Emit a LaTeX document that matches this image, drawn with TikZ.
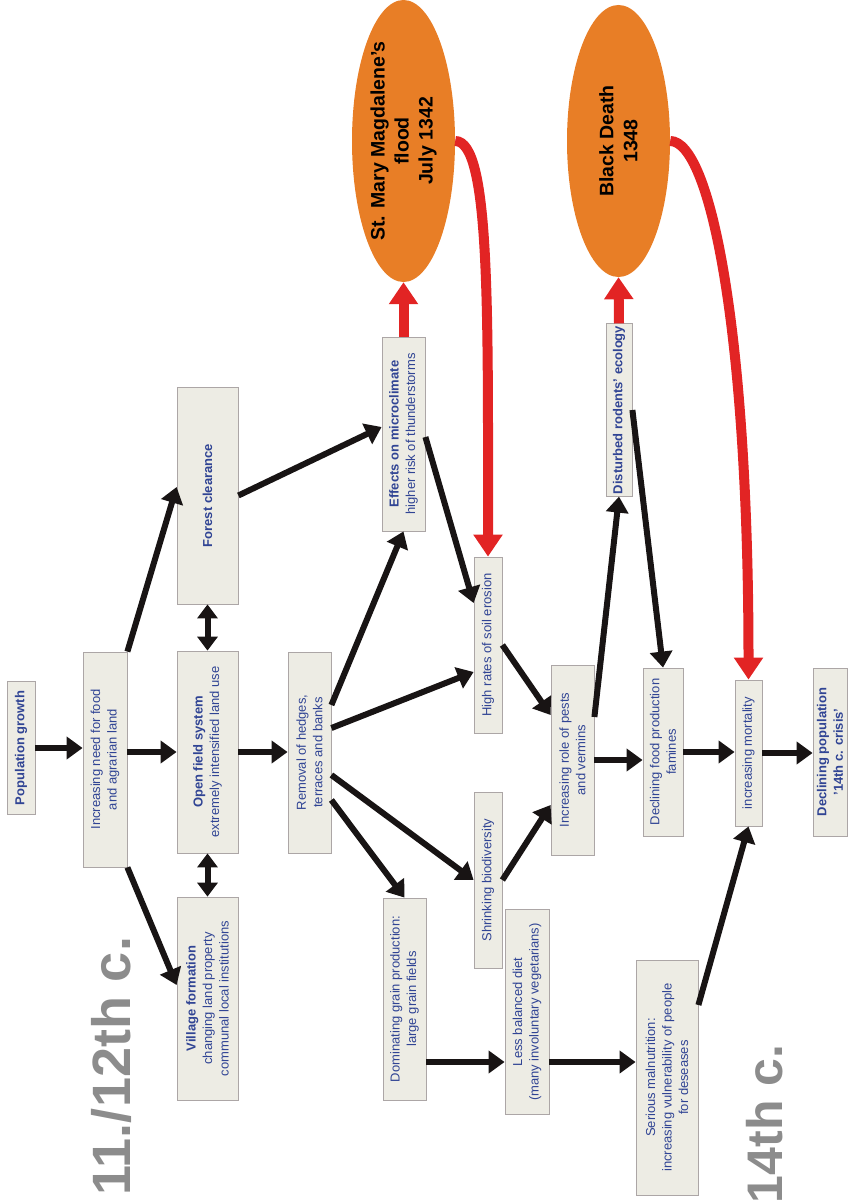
\documentclass[tikz,border=0pt]{standalone}
\usepackage{fontspec}
\setmainfont{Liberation Sans}
\usetikzlibrary{arrows.meta,shapes.geometric}
\definecolor{boxfill}{RGB}{237,236,228}
\definecolor{boxline}{RGB}{172,166,166}
\definecolor{boxtext}{RGB}{48,68,148}
\definecolor{evorange}{RGB}{232,126,38}
\definecolor{hitred}{RGB}{226,36,36}
\definecolor{arrowblack}{RGB}{24,20,20}
\definecolor{eragray}{RGB}{140,140,140}
\begin{document}
\begin{tikzpicture}[x=1pt, y=-1pt,
  box/.style={draw=boxline, fill=boxfill, line width=0.8pt, rotate=90, align=center, inner sep=2pt, text=boxtext, font=\fontsize{13}{16.5}\selectfont},
  event/.style={ellipse, fill=evorange, rotate=90, align=center, inner sep=0pt, minimum width=272pt, minimum height=103pt, font=\fontsize{19.5}{24}\selectfont\bfseries},
  era/.style={rotate=90, text=eragray, font=\fontsize{54}{56}\selectfont\bfseries},
  arr/.style={draw=arrowblack, line width=6pt, -{Triangle[length=16pt,width=22pt]}},
  twoway/.style={draw=arrowblack, line width=6pt, {Triangle[length=14pt,width=20pt]}-{Triangle[length=14pt,width=20pt]}},
  hit/.style={draw=hitred, line width=10pt, -{Triangle[length=22pt,width=28pt]}}]
\useasboundingbox (0,0) rectangle (847,1201);

% 11th/12th century
\node[box, minimum width=133pt, minimum height=28pt] at (21,748) (pop) {\bfseries Population growth};
\node[box, minimum width=215pt, minimum height=44pt] at (105,759.5) (need) {Increasing need for food\\and agrarian land};
\node[box, minimum width=217pt, minimum height=61pt] at (207.5,495.5) (forest) {\bfseries Forest clearance};
\node[box, minimum width=202pt, minimum height=61pt] at (207.5,752) (open) {{\bfseries Open field system}\\extremely intensified land use};
\node[box, minimum width=203pt, minimum height=61pt] at (207.5,998.5) (village) {{\bfseries Village formation}\\changing land property\\communal local institutions};
\node[box, minimum width=201pt, minimum height=43pt] at (309.5,752.5) (removal) {Removal of hedges,\\terraces and banks};
\node[box, minimum width=194pt, minimum height=43pt] at (403.5,434) (effects) {{\bfseries Effects on microclimate}\\higher risk of thunderstorms};
\node[box, minimum width=176pt, minimum height=28pt] at (488,645) (soil) {High rates of soil erosion};
\node[box, minimum width=176pt, minimum height=28pt] at (488,880) (shrink) {Shrinking biodiversity};
\node[box, minimum width=202pt, minimum height=43pt] at (404.5,999) (grain) {Dominating grain production:\\large grain fields};
\node[box, minimum width=205pt, minimum height=44pt] at (527,1012) (diet) {Less balanced diet\\(many involuntary vegetarians)};

% 14th century
\node[box, minimum width=190pt, minimum height=43pt] at (572.5,760) (pests) {Increasing role of pests\\and vermins};
\node[box, minimum width=165pt, minimum height=26pt] at (619,410) (rodents) {\bfseries Disturbed rodents' ecology};
\node[box, minimum width=168pt, minimum height=40pt] at (663,752) (famine) {Declining food production\\famines};
\node[box, minimum width=146pt, minimum height=27pt] at (748.5,753) (mortality) {increasing mortality};
\node[box, minimum width=168pt, minimum height=34pt] at (830,752) (decline) {\bfseries Declining population\\\bfseries '14th c. crisis'};
\node[box, minimum width=235pt, minimum height=62pt] at (667,1077.5) (malnutrition) {Serious malnutrition:\\increasing vulnerability of people\\for deseases};

% events
\node[event] at (403.5,141) (flood) {St. Mary Magdalene's\\flood\\July 1342};
\node[event] at (618.5,141) (plague) {Black Death\\1348};

% periods
\node[era] at (111,1066) (early) {11./12th c.};
\node[era] at (765,1124) (late) {\fontsize{50}{52}\selectfont 14th c.};

\draw[arr] (pop.south) -- (need.north |- pop.south);
\draw[arr] (need.south east) -- (forest.north |- 0,487);
\draw[arr] (need.south |- open.north) -- (open.north);
\draw[arr] (need.south west) -- (village.north |- 0,985);
\draw[twoway] (forest.west) -- (open.east);
\draw[twoway] (open.west) -- (village.east);
\draw[arr] (open.south) -- (removal.north |- open.south);
\draw[arr] (forest.south) -- (effects.north |- 0,427);
\draw[arr] (removal.south |- 0,705) -- (effects.west);
\draw[arr] (removal.south |- 0,728) -- (soil.north |- 0,672);
\draw[arr] (removal.south |- 0,775) -- (shrink.north);
\draw[arr] (removal.south |- 0,800) -- (grain.east);
\draw[arr] (effects.south |- 0,437) -- (soil.north |- 0,603);
\draw[arr] (soil.south) -- (pests.north |- 0,715);
\draw[arr] (shrink.south) -- (pests.north |- 0,805);
\draw[arr] (pests.south |- 0,717) -- (rodents.west);
\draw[arr] (rodents.south) -- (famine.east);
\draw[arr] (pests.south) -- (famine.north |- pests.south);
\draw[arr] (famine.south) -- (mortality.north |- famine.south);
\draw[arr] (mortality.south) -- (decline.north |- mortality.south);
\draw[arr] (malnutrition.south |- 0,1005) -- (mortality.west);
\draw[arr] (grain.south |- 0,1062) -- (diet.north |- 0,1062);
\draw[arr] (diet.south |- 0,1062) -- (malnutrition.north |- 0,1062);

\draw[hit] (effects.east) -- (flood.west);
\draw[hit] (rodents.east) -- (plague.west);
\draw[hit] (flood.south) .. controls +(35,0) and +(0,-250) .. (soil.east);
\draw[hit] (plague.south) .. controls +(40,0) and +(0,-350) .. (mortality.east);
\end{tikzpicture}
\end{document}
